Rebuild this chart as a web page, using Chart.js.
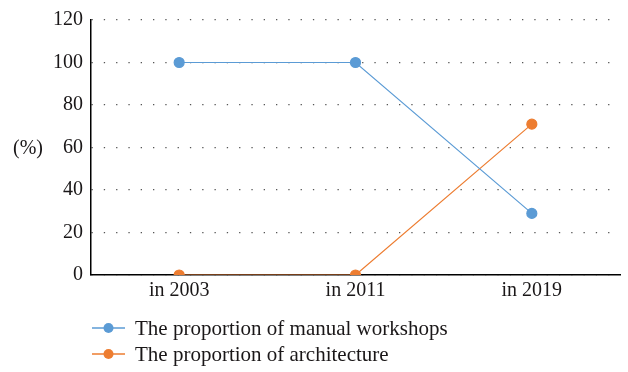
<!DOCTYPE html>
<html>
<head>
<meta charset="utf-8">
<script src="https://cdn.jsdelivr.net/npm/chart.js@4/dist/chart.umd.min.js"></script>
<style>
html,body{margin:0;padding:0;background:#fff;}
#wrap{width:628px;height:372px;position:relative;}
</style>
</head>
<body>
<div id="wrap"><canvas id="c" width="628" height="372"></canvas></div>
<script>
const categories = ["in 2003", "in 2011", "in 2019"];
const manualWorkshops = [100, 100, 29];
const architecture = [0, 0, 71];
const seriesNames = ["The proportion of manual workshops", "The proportion of architecture"];
const yTicks = [0, 20, 40, 60, 80, 100, 120];
const yUnit = "(%)";

const FONT = "'Liberation Serif', 'DejaVu Serif', serif";
const TEXT = "#1a1718";

const extras = {
  id: 'extras',
  afterDraw(chart) {
    const ctx = chart.ctx;
    ctx.save();
    ctx.font = "20px " + FONT;
    ctx.fillStyle = TEXT;
    ctx.textBaseline = 'middle';
    ctx.textAlign = 'left';
    const y60 = chart.scales.y.getPixelForValue(60);
    ctx.fillText(yUnit, 13, y60 + 1);
    ctx.font = "21px " + FONT;
    chart.data.datasets.forEach((ds, i) => {
      const ly = 328 + i * 26;
      ctx.strokeStyle = ds.borderColor;
      ctx.lineWidth = 1.5;
      ctx.beginPath();
      ctx.moveTo(92, ly);
      ctx.lineTo(125, ly);
      ctx.stroke();
      ctx.fillStyle = ds.backgroundColor;
      ctx.beginPath();
      ctx.arc(108.5, ly, 5, 0, Math.PI * 2);
      ctx.fill();
      ctx.fillStyle = TEXT;
      ctx.fillText(ds.label, 135, ly + 1);
    });
    ctx.restore();
  }
};

new Chart(document.getElementById('c'), {
  type: 'line',
  data: {
    labels: categories,
    datasets: [
      { label: seriesNames[0], data: manualWorkshops, borderColor: '#5b9bd5', backgroundColor: '#5b9bd5', borderWidth: 1.2, pointRadius: 5, pointHoverRadius: 5, tension: 0 },
      { label: seriesNames[1], data: architecture, borderColor: '#ed7d31', backgroundColor: '#ed7d31', borderWidth: 1.2, pointRadius: 5, pointHoverRadius: 5, tension: 0 }
    ]
  },
  options: {
    responsive: false,
    animation: false,
    devicePixelRatio: 1,
    layout: { padding: { left: 0, right: 8, top: 18, bottom: 67 } },
    plugins: { legend: { display: false }, tooltip: { enabled: false } },
    scales: {
      x: {
        offset: true,
        grid: { display: false, drawTicks: false },
        border: { display: true, color: '#000', width: 1.5 },
        ticks: { color: TEXT, font: { family: FONT, size: 20 }, padding: 4 },
        afterFit(s) { s.height = 30; }
      },
      y: {
        min: 0, max: 120,
        afterBuildTicks(s) { s.ticks = yTicks.map(v => ({ value: v })); },
        grid: { color: '#555', lineWidth: 1.3, drawTicks: false },
        border: { display: true, color: '#000', width: 1.5, dash: [1.3, 11] },
        ticks: { color: TEXT, font: { family: FONT, size: 20 }, padding: 8 },
        afterFit(s) { s.width = 91; }
      }
    }
  },
  plugins: [extras]
});
</script>
</body>
</html>
